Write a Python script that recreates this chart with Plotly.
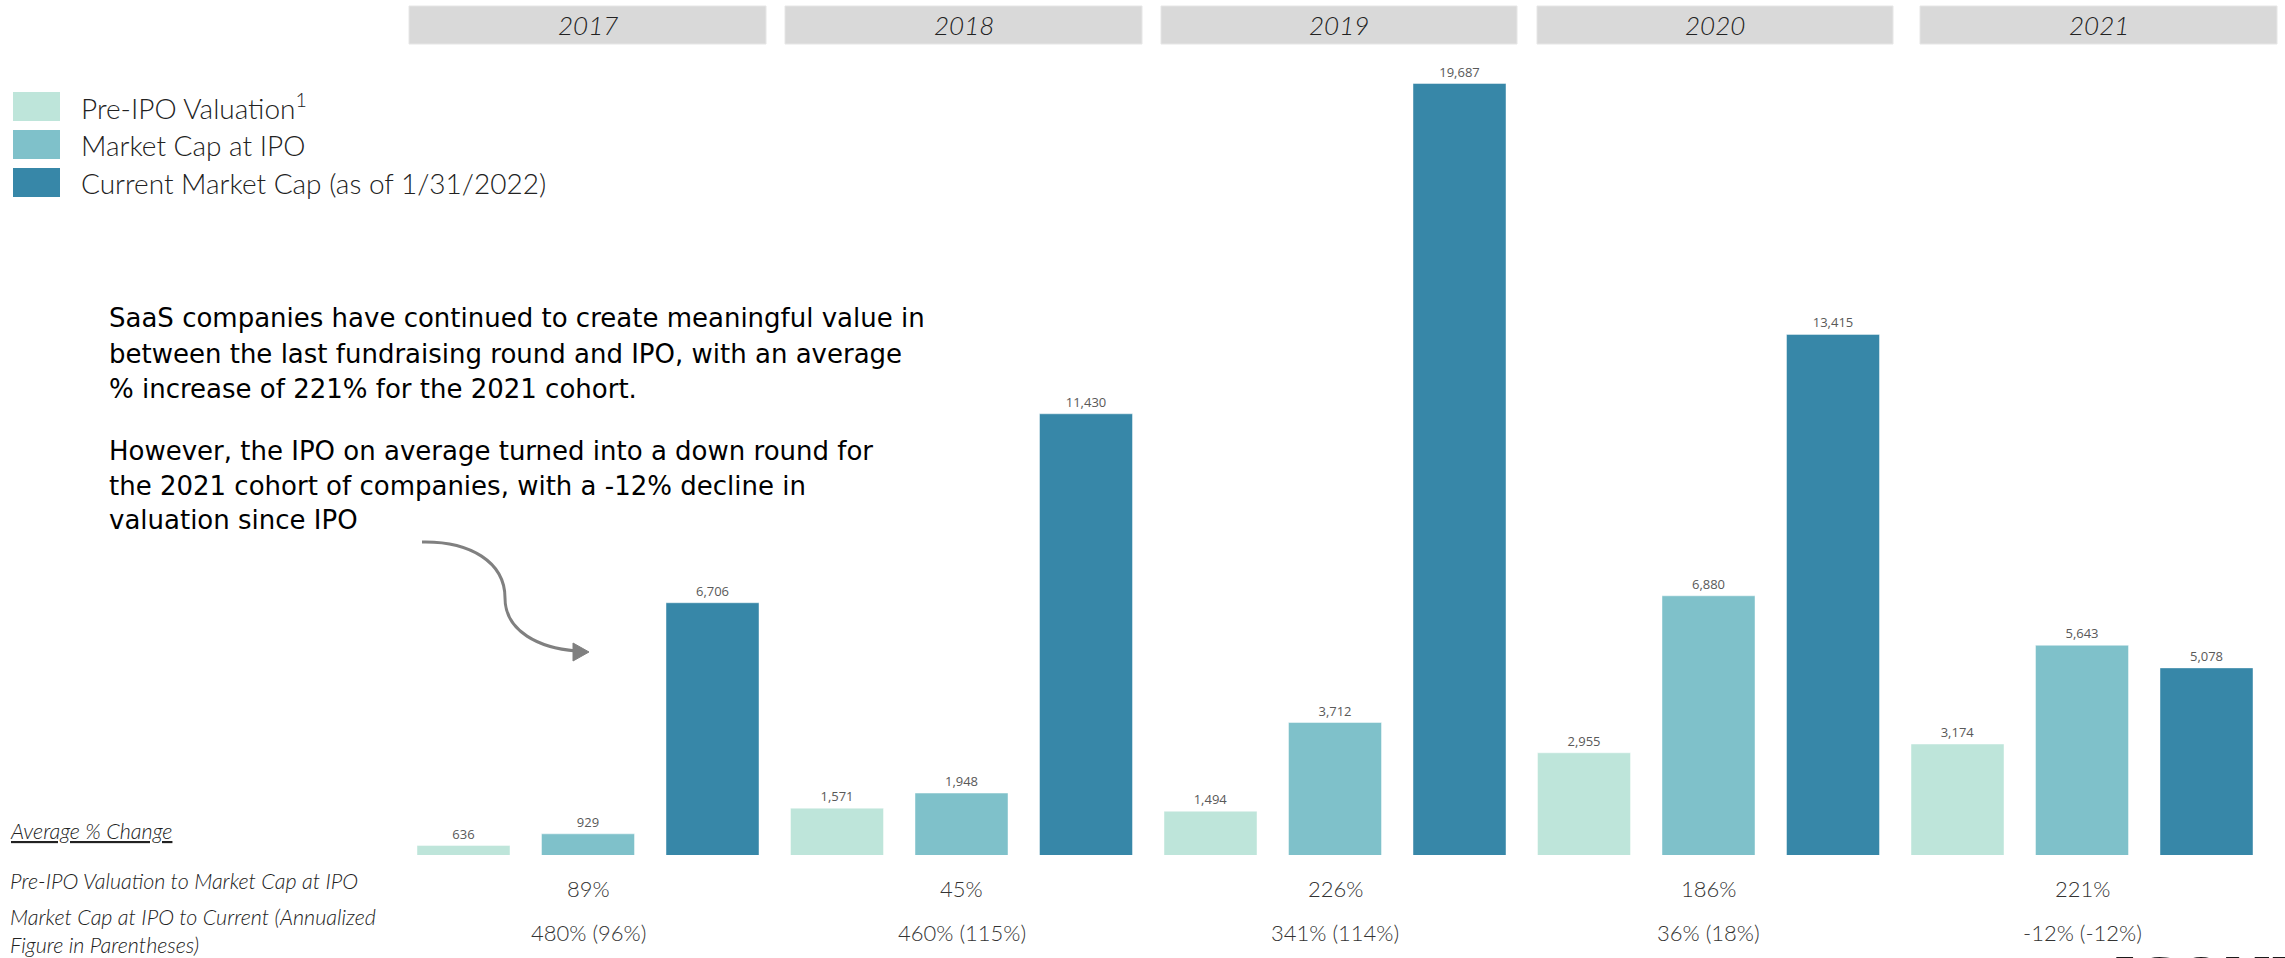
import plotly.graph_objects as go

# ---------------- data ----------------
years = ["2017", "2018", "2019", "2020", "2021"]
pre_ipo = [636, 1571, 1494, 2955, 3174]
ipo_cap = [929, 1948, 3712, 6880, 5643]
current_cap = [6706, 11430, 19687, 13415, 5078]
series_names = ["Pre-IPO Valuation<sup>1</sup>", "Market Cap at IPO",
                "Current Market Cap (as of 1/31/2022)"]
pre_to_ipo = ["89%", "45%", "226%", "186%", "221%"]
ipo_to_current = ["480% (96%)", "460% (115%)", "341% (114%)", "36% (18%)", "-12% (-12%)"]
row_labels = ["Pre-IPO Valuation to Market Cap at IPO",
              "Market Cap at IPO to Current (Annualized<br>Figure in Parentheses)"]
note_lines = [
    "SaaS companies have continued to create meaningful value in",
    "between the last fundraising round and IPO, with an average",
    "% increase of 221% for the 2021 cohort.",
    "However, the IPO on average turned into a down round for",
    "the 2021 cohort of companies, with a -12% decline in",
    "valuation since IPO",
]

# ---------------- layout helpers ----------------
W, H = 2285, 958
colors = ["#BEE5DA", "#7FC1CA", "#3787A8"]
TXT = "#222222"


def px(x):
    return x / W


def py(y):
    return 1 - y / H


def P(x, y):
    return f"{px(x):.5f},{py(y):.5f}"


fig = go.Figure()
for vals, col, nm in zip([pre_ipo, ipo_cap, current_cap], colors, series_names):
    fig.add_bar(
        x=years, y=vals, name=nm,
        marker=dict(color=col, line=dict(color="rgba(255,255,255,0.45)", width=1)),
        texttemplate="%{y:,}", textposition="outside",
        textfont=dict(family="Open Sans", size=13, color="#595959"),
        showlegend=False, hoverinfo="skip",
    )

shapes = []
annotations = []

# year header boxes
box_px = [(409, 766), (785, 1142), (1161, 1517), (1537, 1893), (1920, 2277)]
for yr, (x0, x1) in zip(years, box_px):
    shapes.append(dict(type="rect", xref="paper", yref="paper",
                       x0=px(x0), x1=px(x1), y0=py(44), y1=py(6),
                       fillcolor="#D9D9D9", line=dict(color="#E6E6E6", width=1), layer="below"))
    annotations.append(dict(text=yr, xref="paper", yref="paper", x=px((x0 + x1) / 2), y=py(25),
                            xanchor="center", yanchor="middle", showarrow=False,
                            font=dict(family="Lato", size=26, color=TXT, style="italic", weight=300)))

# legend
leg_y = [(92, 121), (130, 159), (168, 197)]
for nm, col, (y0, y1) in zip(series_names, colors, leg_y):
    shapes.append(dict(type="rect", xref="paper", yref="paper",
                       x0=px(13), x1=px(60), y0=py(y1), y1=py(y0),
                       fillcolor=col, line=dict(width=0)))
    annotations.append(dict(text=nm, xref="paper", yref="paper", x=px(79), y=py((y0 + y1) / 2),
                            xanchor="left", yanchor="middle", showarrow=False,
                            font=dict(family="Lato", size=28, color=TXT, weight=300)))

# handwritten note
note_y = [318, 354, 389, 451, 486, 520]
for line, yy in zip(note_lines, note_y):
    annotations.append(dict(text=line, xref="paper", yref="paper", x=px(107), y=py(yy),
                            xanchor="left", yanchor="middle", showarrow=False,
                            font=dict(family="DejaVu Sans", size=26, color="#000000")))

# curved arrow
shapes.append(dict(type="path", xref="paper", yref="paper",
                   path=f"M {P(422,542)} C {P(470,541)} {P(505,562)} {P(505,598)} "
                        f"C {P(505,632)} {P(540,648)} {P(576,651)}",
                   line=dict(color="#808080", width=3)))
shapes.append(dict(type="path", xref="paper", yref="paper",
                   path=f"M {P(589,652)} L {P(573,643)} L {P(573,661)} Z",
                   fillcolor="#808080", line=dict(color="#808080", width=1)))

# bottom table
lab_font = dict(family="Lato", size=21.5, color=TXT, style="italic", weight=300)
annotations.append(dict(text="<u>Average % Change</u>", xref="paper", yref="paper", x=px(8), y=py(831),
                        xanchor="left", yanchor="middle", showarrow=False, font=lab_font))
annotations.append(dict(text=row_labels[0], xref="paper", yref="paper", x=px(8), y=py(881),
                        xanchor="left", yanchor="middle", showarrow=False, font=lab_font))
annotations.append(dict(text=row_labels[1], xref="paper", yref="paper", x=px(8), y=py(931),
                        xanchor="left", yanchor="middle", align="left", showarrow=False,
                        font=lab_font))
val_font = dict(family="Lato", size=22, color="#333333", weight=300)
for i, (a, b) in enumerate(zip(pre_to_ipo, ipo_to_current)):
    annotations.append(dict(text=a, xref="x", yref="paper", x=i, y=py(888),
                            xanchor="center", yanchor="middle", showarrow=False, font=val_font))
    annotations.append(dict(text=b, xref="x", yref="paper", x=i, y=py(932),
                            xanchor="center", yanchor="middle", showarrow=False, font=val_font))

# cut-off logo at bottom right
annotations.append(dict(text="ICONIQ", xref="paper", yref="paper", x=px(2112), y=py(940),
                        xanchor="left", yanchor="top", showarrow=False,
                        font=dict(family="Liberation Serif", size=64, color="#1a1a1a")))

fig.update_layout(
    width=W, height=H,
    margin=dict(l=0, r=0, t=0, b=0),
    paper_bgcolor="white", plot_bgcolor="white",
    barmode="group", bargap=0, bargroupgap=0.253,
    xaxis=dict(domain=[px(401.25), px(2268.75)], range=[-0.5, 4.5], type="category",
               visible=False, fixedrange=True),
    yaxis=dict(domain=[py(855), py(60)], range=[400, 400 + 795 / 0.04], visible=False,
               fixedrange=True),
    shapes=shapes, annotations=annotations,
)

fig.write_html("out.html", config={"displayModeBar": False},
               post_script="document.body.style.margin='0';")
